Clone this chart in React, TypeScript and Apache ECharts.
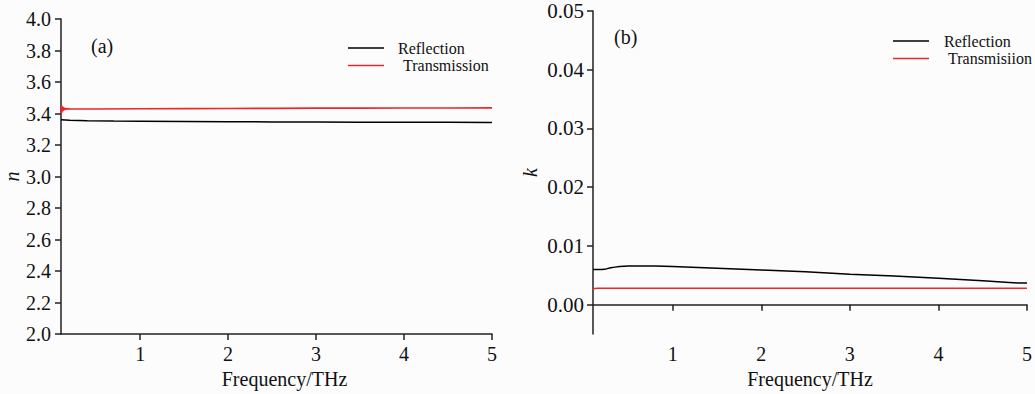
import React, { useEffect, useRef } from "react";
import * as echarts from "echarts";

// Panel (a): refractive index n
const nReflFreq = [0.1, 0.2, 0.4, 0.7, 1, 1.5, 2, 2.5, 3, 3.5, 4, 4.5, 5];
const nReflVals = [3.36, 3.357, 3.354, 3.352, 3.351, 3.349, 3.348, 3.347, 3.346, 3.345, 3.345, 3.344, 3.343];
const nTransFreq = [0.1, 0.105, 0.11, 0.115, 0.12, 0.125, 0.13, 0.14, 0.15, 0.16, 0.17, 0.18, 0.2, 0.3, 0.5, 1, 1.5, 2, 2.5, 3, 3.5, 4, 4.5, 5];
const nTransVals = [3.40, 3.452, 3.405, 3.445, 3.415, 3.44, 3.42, 3.436, 3.424, 3.433, 3.427, 3.431, 3.429, 3.429, 3.429, 3.43, 3.431, 3.432, 3.433, 3.434, 3.434, 3.435, 3.435, 3.436];

// Panel (b): extinction coefficient k
const kReflFreq = [0.1, 0.2, 0.25, 0.3, 0.35, 0.4, 0.5, 0.6, 0.8, 1, 1.5, 2, 2.5, 3, 3.5, 4, 4.5, 4.8, 4.9, 5];
const kReflVals = [0.006, 0.006, 0.0061, 0.0063, 0.0064, 0.0065, 0.0066, 0.0066, 0.0066, 0.0065, 0.0062, 0.0059, 0.0056, 0.0052, 0.0049, 0.0045, 0.0041, 0.0038, 0.0037, 0.0037];
const kTransFreq = [0.1, 0.15, 1, 2, 3, 4, 5];
const kTransVals = [0.0027, 0.0028, 0.0028, 0.0028, 0.0028, 0.0028, 0.0028];

const xTicks = [1, 2, 3, 4, 5];
const nTicks = [2.0, 2.2, 2.4, 2.6, 2.8, 3.0, 3.2, 3.4, 3.6, 3.8, 4.0];
const kTicks = [0, 0.01, 0.02, 0.03, 0.04, 0.05];

const zip = (xs: number[], ys: number[]) => xs.map((x, i) => [x, ys[i]]);

const FONT = "Liberation Serif";
const AXIS_COLOR = "#222";
const RED = "#e8282b";

export default function App() {
  const ref = useRef<HTMLDivElement>(null);
  useEffect(() => {
    if (!ref.current) return;
    const chart = echarts.init(ref.current, undefined, { renderer: "svg" });
    const axisLine = { show: true, lineStyle: { color: AXIS_COLOR, width: 1.5 } };
    const axisTickX = { show: true, inside: false, length: 6, customValues: xTicks, lineStyle: { color: AXIS_COLOR, width: 1.5 } };
    const labelStyle = { fontFamily: FONT, fontSize: 20, color: "#111" };
    const xAxisCommon = {
      type: "value",
      min: 0.1,
      max: 5,
      axisLine,
      axisTick: axisTickX,
      axisLabel: { ...labelStyle, customValues: xTicks, margin: 10 },
      splitLine: { show: false },
      name: "Frequency/THz",
      nameLocation: "middle",
      nameGap: 34,
    };
    const legendCommon = {
      orient: "vertical",
      icon: "rect",
      itemWidth: 36,
      itemHeight: 1.6,
      itemGap: 1.5,
    };
    chart.setOption({
      animation: false,
      backgroundColor: "#fcfcfc",
      textStyle: { fontFamily: FONT },
      grid: [
        { left: 61, top: 19, width: 431, height: 317 },
        { left: 593, top: 11, width: 436, height: 325 },
      ],
      xAxis: [
        {
          ...xAxisCommon,
          gridIndex: 0,
          nameTextStyle: { fontFamily: FONT, fontSize: 20, color: "#111", padding: [0, 0, 0, 16] },
        },
        {
          ...xAxisCommon,
          gridIndex: 1,
          nameTextStyle: { fontFamily: FONT, fontSize: 20, color: "#111" },
        },
      ],
      yAxis: [
        {
          type: "value",
          gridIndex: 0,
          min: 2.0,
          max: 4.0,
          axisLine,
          axisTick: { show: true, length: 6, customValues: nTicks, lineStyle: { color: AXIS_COLOR, width: 1.5 } },
          axisLabel: { ...labelStyle, customValues: nTicks, margin: 10, formatter: (v: number) => v.toFixed(1) },
          splitLine: { show: false },
          name: "n",
          nameLocation: "middle",
          nameGap: 39,
          nameTextStyle: { fontFamily: FONT, fontSize: 20, fontStyle: "italic", color: "#111" },
        },
        {
          type: "value",
          gridIndex: 1,
          min: -0.005,
          max: 0.05,
          axisLine,
          axisTick: { show: true, length: 6, customValues: kTicks, lineStyle: { color: AXIS_COLOR, width: 1.5 } },
          axisLabel: { ...labelStyle, fontSize: 21, customValues: kTicks, margin: 9, formatter: (v: number) => v.toFixed(2) },
          splitLine: { show: false },
          name: "k",
          nameLocation: "middle",
          nameGap: 53,
          nameTextStyle: { fontFamily: FONT, fontSize: 20, fontStyle: "italic", color: "#111" },
        },
      ],
      legend: [
        {
          ...legendCommon,
          left: 343,
          top: 35,
          textStyle: { fontFamily: FONT, fontSize: 16, lineHeight: 16, color: "#111", padding: [0, 0, 0, 9] },
          data: [
            { name: "Reflection" },
            { name: "Transmission", textStyle: { padding: [0, 0, 0, 14] } },
          ],
        },
        {
          ...legendCommon,
          left: 888,
          top: 28,
          textStyle: { fontFamily: FONT, fontSize: 16, lineHeight: 16, color: "#111", padding: [0, 0, 0, 10] },
          data: [
            { name: "Reflection " },
            { name: "Transmisiion", textStyle: { padding: [0, 0, 0, 14] } },
          ],
        },
      ],
      graphic: [
        { type: "text", left: 91, top: 36, style: { text: "(a)", fontFamily: FONT, fontSize: 20, fill: "#111" } },
        { type: "text", left: 614, top: 27, style: { text: "(b)", fontFamily: FONT, fontSize: 20, fill: "#111" } },
      ],
      series: [
        {
          name: "Reflection",
          type: "line",
          xAxisIndex: 0,
          yAxisIndex: 0,
          data: zip(nReflFreq, nReflVals),
          showSymbol: false,
          symbol: "none",
          lineStyle: { color: "#000", width: 1.5 },
          itemStyle: { color: "#000" },
        },
        {
          name: "Transmission",
          type: "line",
          xAxisIndex: 0,
          yAxisIndex: 0,
          data: zip(nTransFreq, nTransVals),
          showSymbol: false,
          symbol: "none",
          lineStyle: { color: RED, width: 1.6 },
          itemStyle: { color: RED },
        },
        {
          name: "Reflection ",
          type: "line",
          xAxisIndex: 1,
          yAxisIndex: 1,
          data: zip(kReflFreq, kReflVals),
          showSymbol: false,
          symbol: "none",
          lineStyle: { color: "#000", width: 1.5 },
          itemStyle: { color: "#000" },
        },
        {
          name: "Transmisiion",
          type: "line",
          xAxisIndex: 1,
          yAxisIndex: 1,
          data: zip(kTransFreq, kTransVals),
          showSymbol: false,
          symbol: "none",
          lineStyle: { color: RED, width: 1.5 },
          itemStyle: { color: RED },
        },
      ],
    });
    return () => chart.dispose();
  }, []);
  return (
    <div
      ref={ref}
      style={{ position: "fixed", left: 0, top: 0, width: 1035, height: 394 }}
    />
  );
}
